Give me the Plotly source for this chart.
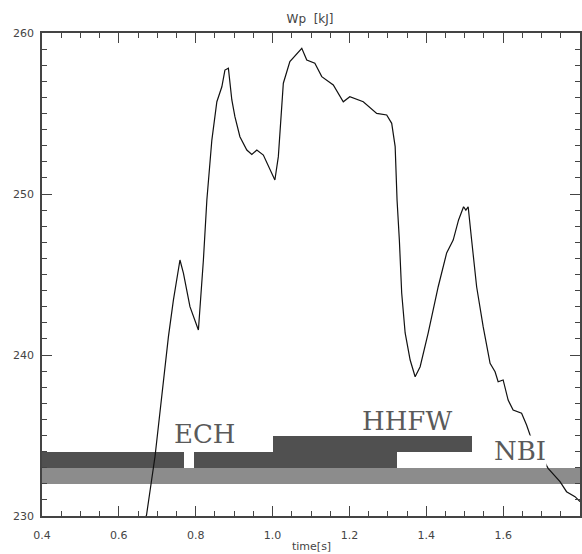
import plotly.graph_objects as go

# Wp trace (time in s, Wp in kJ)
time_s = [0.665, 0.672, 0.694, 0.716, 0.729, 0.742, 0.759, 0.768, 0.785, 0.807,
          0.816, 0.820, 0.829, 0.842, 0.855, 0.868, 0.876, 0.885, 0.894, 0.902,
          0.915, 0.933, 0.946, 0.959, 0.976, 0.989, 1.006, 1.015, 1.028, 1.045,
          1.063, 1.076, 1.089, 1.110, 1.128, 1.158, 1.184, 1.201, 1.236, 1.271,
          1.297, 1.310, 1.319, 1.324, 1.330, 1.336, 1.345, 1.358, 1.371, 1.384,
          1.405, 1.431, 1.453, 1.470, 1.484, 1.497, 1.503, 1.509, 1.518, 1.531,
          1.548, 1.566, 1.579, 1.587, 1.600, 1.613, 1.626, 1.648, 1.661, 1.670,
          1.717, 1.748, 1.765, 1.787, 1.800]
wp_kj = [229.6, 230.06, 233.68, 238.26, 241.14, 243.42, 245.90, 245.09, 243.0, 241.55,
         244.4, 245.9, 249.63, 253.35, 255.73, 256.66, 257.70, 257.81, 255.84, 254.80,
         253.56, 252.73, 252.45, 252.73, 252.42, 251.70, 250.87, 252.32, 256.88, 258.22,
         258.74, 259.05, 258.32, 258.12, 257.29, 256.77, 255.73, 256.04, 255.73, 255.01,
         254.91, 254.39, 252.94, 249.6, 247.1, 243.85, 241.37, 239.69, 238.65, 239.27,
         241.37, 244.24, 246.34, 247.14, 248.39, 249.21, 249.0, 249.21, 247.14, 244.24,
         241.76, 239.48, 238.96, 238.34, 238.45, 237.20, 236.58, 236.38, 235.65, 235.03,
         232.96, 232.13, 231.51, 231.20, 230.89]

# heating system timing bars
heat_names = ["NBI", "ECH", "ECH", "HHFW"]
heat_start = [0.40, 0.40, 0.796, 1.00]
heat_end = [1.80, 0.770, 1.323, 1.52]
heat_level = [232.5, 233.5, 233.5, 234.5]
heat_colors = ["#8c8c8c", "#505050", "#505050", "#505050"]

label_text = ["ECH", "HHFW", "NBI"]
label_x = [0.825, 1.349, 1.644]
label_y = [235.09, 235.9, 234.04]
label_bg = ["rgba(0,0,0,0)", "rgba(0,0,0,0)", "white"]

x_ticks = [0.4, 0.6, 0.8, 1.0, 1.2, 1.4, 1.6, 1.8]
y_ticks = [230, 240, 250, 260]

fig = go.Figure()
fig.add_trace(go.Scatter(x=time_s, y=wp_kj, mode="lines",
                         line=dict(color="#111111", width=1.2),
                         showlegend=False, hoverinfo="skip"))
for name, s, e, lv, c in zip(heat_names, heat_start, heat_end, heat_level, heat_colors):
    fig.add_trace(go.Bar(orientation="h", y=[lv], x=[e - s], base=[s], width=1.0,
                         marker=dict(color=c, line=dict(width=0)),
                         name=name, showlegend=False, hoverinfo="skip"))

for t, x, y, bg in zip(label_text, label_x, label_y, label_bg):
    fig.add_annotation(x=x, y=y, xref="x", yref="y", text=t, showarrow=False,
                       font=dict(family="DejaVu Serif", size=26, color="#5a5a5a"),
                       bgcolor=bg, borderpad=0)

fig.add_annotation(x=0.5, xref="paper", y=-(546 - 516) / 483, yref="paper",
                   text="time[s]", showarrow=False, yanchor="middle",
                   font=dict(family="DejaVu Sans", size=11, color="#444444"))

tickfont = dict(family="DejaVu Sans", size=11, color="#444444")
fig.update_layout(
    width=582, height=554,
    margin=dict(l=42, r=2, t=33, b=38),
    paper_bgcolor="white", plot_bgcolor="white",
    barmode="overlay", bargap=0,
    title=dict(text="Wp&nbsp;&nbsp;[kJ]", x=310 / 582, xref="container", xanchor="center",
               y=1 - 19 / 554, yref="container", yanchor="middle",
               font=dict(family="DejaVu Sans", size=12, color="#444444")),
    xaxis=dict(range=[0.4, 1.8], tickvals=x_ticks, ticktext=[f"{v:.1f}" for v in x_ticks],
               ticks="inside", ticklen=10, tickwidth=1, tickcolor="#444444",
               minor=dict(dtick=0.05, ticks="inside", ticklen=5, tickcolor="#444444", showgrid=False),
               showline=True, linecolor="#444444", linewidth=1.5, mirror="ticks",
               showgrid=False, zeroline=False, tickfont=tickfont, ticklabelstandoff=8,
               automargin=False),
    yaxis=dict(range=[230, 260], tickvals=y_ticks, ticks="inside", ticklen=10, tickwidth=1,
               tickcolor="#444444",
               minor=dict(dtick=1, ticks="inside", ticklen=5, tickcolor="#444444", showgrid=False),
               showline=True, linecolor="#444444", linewidth=1.5, mirror="ticks",
               showgrid=False, zeroline=False, tickfont=tickfont, ticklabelstandoff=4,
               automargin=False),
)

fig.write_html("out.html", config={"displayModeBar": False},
               post_script="document.body.style.margin='0px';document.body.style.padding='0px';")
